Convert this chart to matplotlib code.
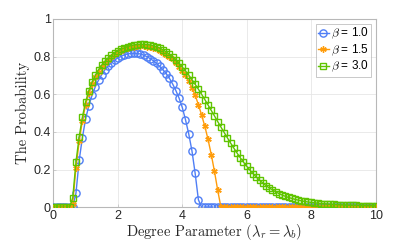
import numpy as np
import matplotlib
matplotlib.use("Agg")
import matplotlib.pyplot as plt

plt.rcParams['mathtext.fontset'] = 'cm'
plt.rcParams['font.family'] = ['Liberation Sans', 'DejaVu Sans']

lam = np.round(np.arange(0, 10.0001, 0.1), 1)

beta_labels = [r'$\beta$ = 1.0', r'$\beta$ = 1.5', r'$\beta$ = 3.0']

p_beta10 = [0, 0, 0, 0, 0, 0, 0, 0.075, 0.25, 0.37,
            0.47, 0.54, 0.595, 0.64, 0.675, 0.705, 0.73, 0.75, 0.768, 0.782,
            0.793, 0.802, 0.809, 0.814, 0.817, 0.818, 0.817, 0.814, 0.808, 0.80,
            0.79, 0.778, 0.764, 0.748, 0.73, 0.71, 0.685, 0.655, 0.62, 0.58,
            0.53, 0.465, 0.39, 0.30, 0.18, 0.04, 0, 0, 0, 0,
            0, 0, 0, 0, 0, 0, 0, 0, 0, 0,
            0, 0, 0, 0, 0, 0, 0, 0, 0, 0,
            0, 0, 0, 0, 0, 0, 0, 0, 0, 0,
            0, 0, 0, 0, 0, 0, 0, 0, 0, 0,
            0, 0, 0, 0, 0, 0, 0, 0, 0, 0,
            0]

p_beta15 = [0, 0, 0, 0, 0, 0, 0.02, 0.21, 0.35, 0.46,
            0.545, 0.605, 0.652, 0.69, 0.72, 0.745, 0.766, 0.784, 0.799, 0.812,
            0.823, 0.832, 0.839, 0.845, 0.849, 0.852, 0.854, 0.855, 0.855, 0.853,
            0.85, 0.845, 0.838, 0.83, 0.82, 0.81, 0.80, 0.785, 0.767, 0.745,
            0.725, 0.70, 0.67, 0.635, 0.595, 0.545, 0.49, 0.43, 0.36, 0.28,
            0.19, 0.09, 0, 0, 0, 0, 0, 0, 0, 0,
            0, 0, 0, 0, 0, 0, 0, 0, 0, 0,
            0, 0, 0, 0, 0, 0, 0, 0, 0, 0,
            0, 0, 0, 0, 0, 0, 0, 0, 0, 0,
            0, 0, 0, 0, 0, 0, 0, 0, 0, 0,
            0]

p_beta30 = [0, 0, 0, 0, 0, 0, 0.05, 0.24, 0.375, 0.48,
            0.56, 0.62, 0.665, 0.70, 0.73, 0.755, 0.775, 0.792, 0.808, 0.82,
            0.83, 0.839, 0.847, 0.853, 0.858, 0.862, 0.864, 0.865, 0.865, 0.864,
            0.862, 0.858, 0.852, 0.845, 0.836, 0.825, 0.812, 0.798, 0.782, 0.764,
            0.745, 0.724, 0.702, 0.678, 0.653, 0.627, 0.60, 0.572, 0.543, 0.514,
            0.485, 0.455, 0.426, 0.397, 0.369, 0.341, 0.314, 0.288, 0.263, 0.24,
            0.218, 0.197, 0.178, 0.16, 0.144, 0.129, 0.115, 0.103, 0.092, 0.082,
            0.073, 0.065, 0.058, 0.052, 0.047, 0.042, 0.038, 0.034, 0.031, 0.028,
            0.026, 0.024, 0.022, 0.020, 0.019, 0.017, 0.016, 0.015, 0.014, 0.013,
            0.012, 0.011, 0.011, 0.010, 0.010, 0.009, 0.009, 0.008, 0.008, 0.008,
            0.007]

xticks = [0, 2, 4, 6, 8, 10]
yticks = [0, 0.2, 0.4, 0.6, 0.8, 1]
yticklabels = ['0', '0.2', '0.4', '0.6', '0.8', '1']

fig = plt.figure(figsize=(4.15, 2.43), dpi=100)
ax = fig.add_axes([0.1287, 0.147, 0.7763, 0.775])

ax.plot(lam, p_beta10, color='#4f7ef5', lw=1.0, marker='o', ms=5.2,
        mfc='none', mew=1.0, label=beta_labels[0], zorder=3)
ax.plot(lam, p_beta15, color='#ff9c0a', lw=1.0, marker=(6, 2, 0), ms=4.6,
        mew=1.0, label=beta_labels[1], zorder=4)
ax.plot(lam, p_beta30, color='#5fc400', lw=1.0, marker='s', ms=4.6,
        mfc='none', mew=1.0, label=beta_labels[2], zorder=5)

ax.set_xlim(0, 10)
ax.set_ylim(0, 1)
ax.set_xticks(xticks)
ax.set_yticks(yticks)
ax.set_yticklabels(yticklabels)
ax.grid(True, color='#e6e6e6', lw=0.6)
ax.set_axisbelow(True)
ax.tick_params(direction='in', length=2.5, width=0.5, colors='#bfbfbf',
               labelcolor='#262626', labelsize=9, pad=2)
for s in ax.spines.values():
    s.set_color('#b8b8b8')
    s.set_linewidth(0.8)

ax.set_xlabel(r'Degree Parameter ($\lambda_r = \lambda_b$)', family='cmr10',
              fontsize=10.5, labelpad=0, color='#262626')
ax.set_ylabel('The Probability', family='cmr10', fontsize=10.5, labelpad=2,
              color='#262626')

leg = ax.legend(loc='upper right', fontsize=8.5, frameon=True, fancybox=False,
                borderpad=0.2, labelspacing=0.1, handlelength=0.9,
                handletextpad=0.15, borderaxespad=0.4)
leg.get_frame().set_edgecolor('#b0b0b0')
leg.get_frame().set_linewidth(0.6)

fig.savefig('out.png', dpi=100)
